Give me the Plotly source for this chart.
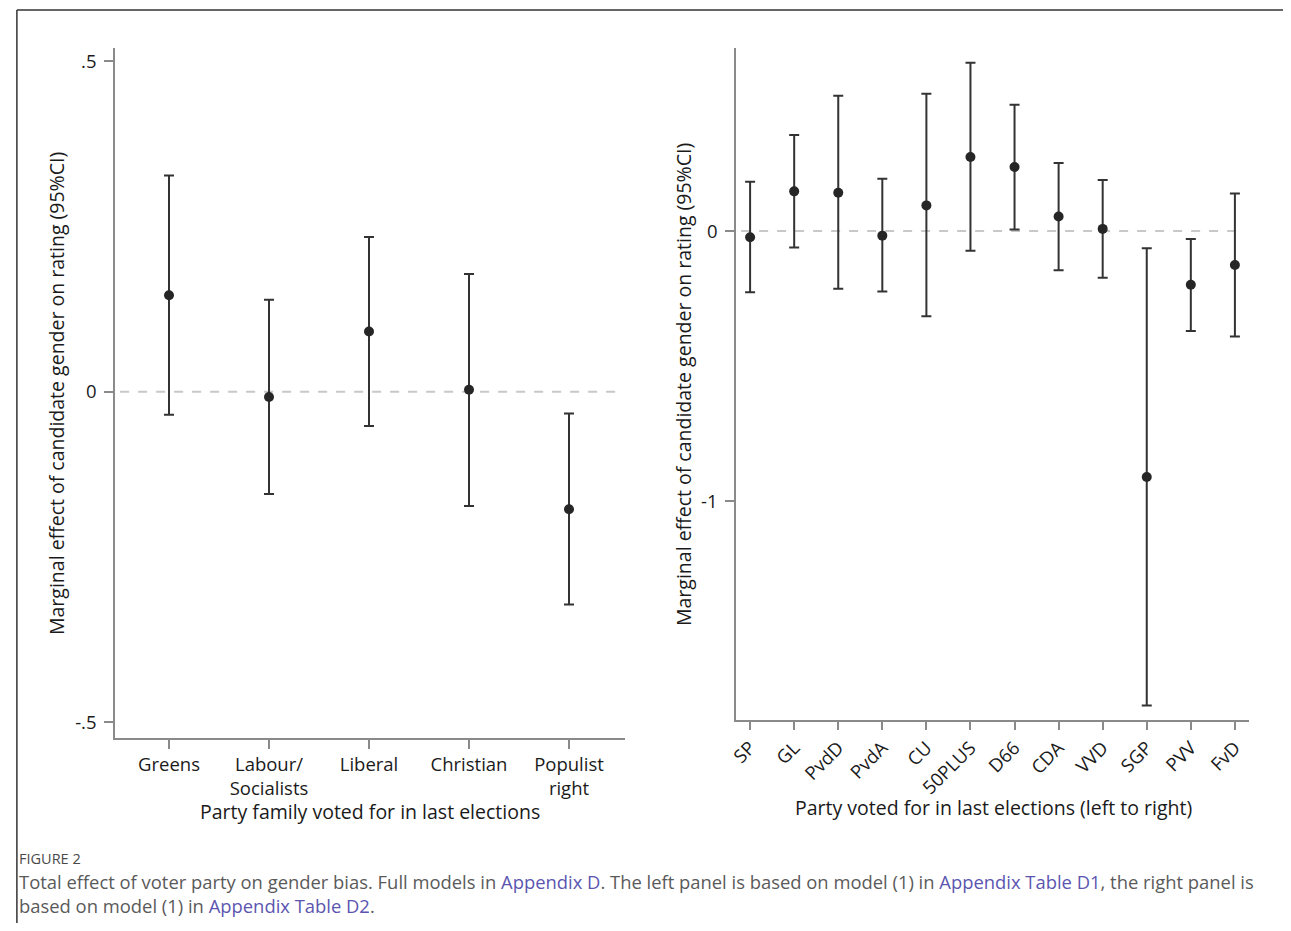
import plotly.graph_objects as go

# ---------------- data ----------------
families = ["Greens", "Labour/<br>Socialists", "Liberal", "Christian", "Populist<br>right"]
fam_est = [0.146, -0.008, 0.091, 0.003, -0.178]
fam_hi = [0.327, 0.139, 0.234, 0.178, -0.033]
fam_lo = [-0.035, -0.155, -0.052, -0.173, -0.322]

parties = ["SP", "GL", "PvdD", "PvdA", "CU", "50PLUS", "D66", "CDA", "VVD", "SGP", "PVV", "FvD"]
party_est = [-0.023, 0.147, 0.142, -0.017, 0.095, 0.274, 0.237, 0.054, 0.008, -0.911, -0.199, -0.126]
party_hi = [0.183, 0.356, 0.501, 0.194, 0.509, 0.623, 0.468, 0.252, 0.189, -0.064, -0.029, 0.139]
party_lo = [-0.227, -0.061, -0.214, -0.224, -0.316, -0.073, 0.006, -0.145, -0.173, -1.757, -0.370, -0.391]

left_yticks = [-0.5, 0, 0.5]
left_yticklabels = ["-.5", "0", ".5"]
right_yticks = [-1, 0]
right_yticklabels = ["-1", "0"]

ytitle = "Marginal effect of candidate gender on rating (95%CI)"
left_xtitle = "Party family voted for in last elections"
right_xtitle = "Party voted for in last elections (left to right)"

# ---------------- layout helpers ----------------
W, H = 1275, 915
X0, XW = 16, 1267   # observed horizontal placement of the figure on the page
Y0 = 8              # top body margin


def px(x):
    return (x - X0) / XW


def py(y):
    return 1 - (y - Y0) / H


FONT = "Open Sans"
MARK = "#262626"
AXC = "#8a8a8a"

fig = go.Figure()

fig.add_trace(go.Scatter(
    x=families, y=fam_est, mode="markers", xaxis="x", yaxis="y",
    marker=dict(size=10, color=MARK),
    error_y=dict(type="data", symmetric=False,
                 array=[h - e for h, e in zip(fam_hi, fam_est)],
                 arrayminus=[e - l for e, l in zip(fam_est, fam_lo)],
                 color="#333333", thickness=2, width=5),
    showlegend=False, hoverinfo="skip"))

fig.add_trace(go.Scatter(
    x=parties, y=party_est, mode="markers", xaxis="x2", yaxis="y2",
    marker=dict(size=10, color=MARK),
    error_y=dict(type="data", symmetric=False,
                 array=[h - e for h, e in zip(party_hi, party_est)],
                 arrayminus=[e - l for e, l in zip(party_est, party_lo)],
                 color="#333333", thickness=2, width=5),
    showlegend=False, hoverinfo="skip"))

common_axis = dict(showline=True, linecolor=AXC, linewidth=1.5, ticks="outside",
                   tickcolor=AXC, tickwidth=1.5, showgrid=False, zeroline=False,
                   tickfont=dict(family=FONT, size=18.5, color="#1a1a1a"))

fig.update_layout(
    width=W, height=H,
    margin=dict(l=0, r=0, t=0, b=0),
    paper_bgcolor="white", plot_bgcolor="white",
    font=dict(family=FONT, color="#1a1a1a"),
    xaxis=dict(domain=[px(115), px(625)], anchor="y", type="category",
               range=[-0.54, 4.56], ticklen=9, **common_axis),
    yaxis=dict(domain=[py(738), py(48)], anchor="x", range=[-0.524, 0.52],
               tickvals=left_yticks, ticktext=left_yticklabels, ticklen=9,
               ticklabelstandoff=4, **common_axis),
    xaxis2=dict(domain=[px(736), px(1249)], anchor="y2", type="category",
                range=[-0.32, 11.32], tickangle=-45, ticklen=8, **common_axis),
    yaxis2=dict(domain=[py(720), py(48)], anchor="x2", range=[-1.811, 0.678],
                tickvals=right_yticks, ticktext=right_yticklabels, ticklen=9,
                ticklabelstandoff=4, **common_axis),
)

# zero reference lines
for xr, yr in (("x domain", "y"), ("x2 domain", "y2")):
    fig.add_shape(type="line", xref=xr, yref=yr, x0=0.01, x1=0.99, y0=0, y1=0,
                  line=dict(color="#c8c8c8", width=2, dash="dash"), layer="below")

# figure frame (top and left rule)
fig.add_shape(type="line", xref="paper", yref="paper", x0=0.0007, x1=1.0, y0=py(10), y1=py(10),
              line=dict(color="#333333", width=1.5))
fig.add_shape(type="line", xref="paper", yref="paper", x0=0.0007, x1=0.0007, y0=py(10), y1=0,
              line=dict(color="#333333", width=1.5))

TF = 19.5
ann = []
ann.append(dict(text=ytitle, x=px(57), y=py(394), textangle=-90, showarrow=False,
                xref="paper", yref="paper", xanchor="center", yanchor="middle",
                font=dict(family=FONT, size=TF)))
ann.append(dict(text=ytitle, x=px(683), y=py(385), textangle=-90, showarrow=False,
                xref="paper", yref="paper", xanchor="center", yanchor="middle",
                font=dict(family=FONT, size=TF)))
ann.append(dict(text=left_xtitle, x=px(370), y=py(811), showarrow=False,
                xref="paper", yref="paper", xanchor="center", yanchor="middle",
                font=dict(family=FONT, size=TF)))
ann.append(dict(text=right_xtitle, x=px(993), y=py(807), showarrow=False,
                xref="paper", yref="paper", xanchor="center", yanchor="middle",
                font=dict(family=FONT, size=TF)))

LINK = "#5b55b0"
CAP = "#5a5a5a"
ann.append(dict(text="FIGURE 2", x=px(17), y=py(858), showarrow=False,
                xref="paper", yref="paper", xanchor="left", yanchor="middle",
                font=dict(family=FONT, size=14.5, color="#4a4a4a")))
caption = ("Total effect of voter party on gender bias. Full models in "
           f"<span style='color:{LINK}'>Appendix D</span>. The left panel is based on model (1) in "
           f"<span style='color:{LINK}'>Appendix Table D1</span>, the right panel is<br>"
           f"based on model (1) in <span style='color:{LINK}'>Appendix Table D2</span>.")
ann.append(dict(text=caption, x=px(17), y=py(893), showarrow=False, align="left",
                xref="paper", yref="paper", xanchor="left", yanchor="middle",
                font=dict(family=FONT, size=18.4, color=CAP)))
fig.update_layout(annotations=ann)

fig.write_html("out.html")
